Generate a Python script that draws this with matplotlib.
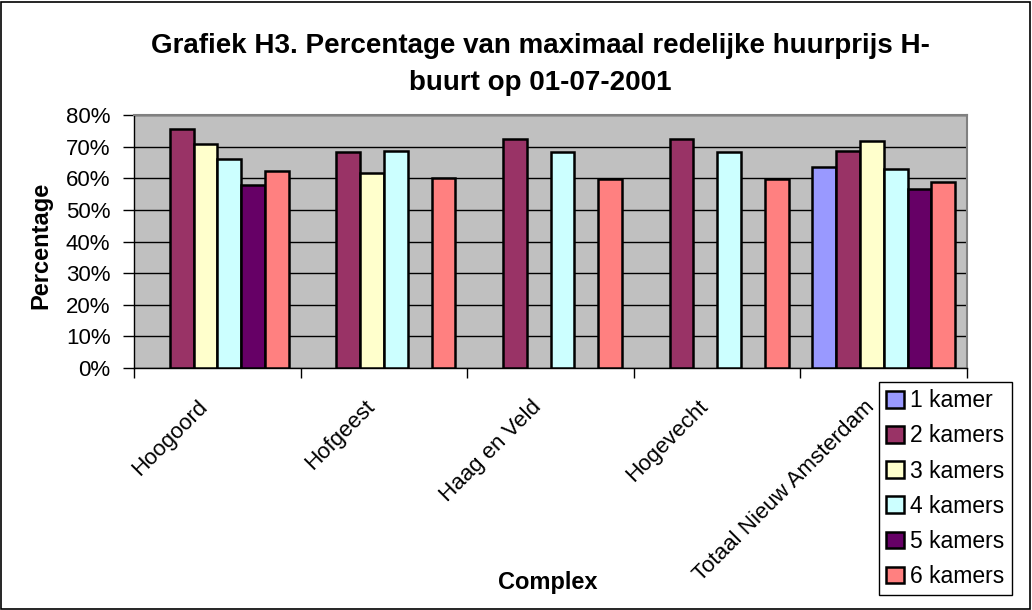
import numpy as np
import matplotlib
matplotlib.use('Agg')
import matplotlib.pyplot as plt
from matplotlib.patches import Rectangle
from matplotlib.transforms import ScaledTranslation

plt.rcParams['font.family'] = ['Liberation Sans', 'DejaVu Sans']

# data (percent), nan = no bar
complexen = ['Hoogoord', 'Hofgeest', 'Haag en Veld', 'Hogevecht', 'Totaal Nieuw Amsterdam']
series = ['1 kamer', '2 kamers', '3 kamers', '4 kamers', '5 kamers', '6 kamers']
kamer1 = [np.nan, np.nan, np.nan, np.nan, 63.6]
kamer2 = [75.5, 68.4, 72.4, 72.4, 68.5]
kamer3 = [70.8, 61.7, np.nan, np.nan, 71.9]
kamer4 = [66.2, 68.7, 68.2, 68.2, 62.8]
kamer5 = [58.0, np.nan, np.nan, np.nan, 56.5]
kamer6 = [62.2, 60.2, 59.8, 59.8, 58.8]
values = [kamer1, kamer2, kamer3, kamer4, kamer5, kamer6]
colors = ['#9999FF', '#993366', '#FFFFCC', '#CCFFFF', '#660066', '#FF8080']
yticks = [0, 10, 20, 30, 40, 50, 60, 70, 80]

W, H = 1032, 610
fig = plt.figure(figsize=(W/100, H/100), dpi=100)
fig.patches.append(Rectangle((1/W, 1/H), 1-3/W, 1-3/H, transform=fig.transFigure,
                             fill=False, edgecolor='black', lw=1.2))

ax = fig.add_axes([134/W, 1-368/H, 833/W, 253/H])
ax.set_facecolor('#C0C0C0')

x = np.arange(len(complexen))
bw = 1/7
for i, (name, vals) in enumerate(zip(series, values)):
    ax.bar(x + (i-2.5)*bw, vals, width=bw, color=colors[i], edgecolor='black',
           lw=1.8, label=name, zorder=3)

ax.set_xlim(-0.5, len(complexen)-0.5)
ax.set_ylim(0, 80)
ax.set_yticks(yticks)
ax.set_yticklabels([f'{v}%' for v in yticks], fontsize=16)
ax.yaxis.grid(True, color='black', lw=1, zorder=1)
ax.set_axisbelow(True)

# ticks on the category boundaries, names written at the centres
ax.set_xticks(np.arange(len(complexen)+1)-0.5)
ax.set_xticklabels([])
ax.tick_params(axis='x', length=7, width=1, direction='out')
ax.tick_params(axis='y', length=8, width=1, direction='out', pad=9)
lbl_tr = ax.get_xaxis_transform() + ScaledTranslation(-20/100, -28/100, fig.dpi_scale_trans)
for xi, name in zip(x, complexen):
    ax.text(xi, 0, name, transform=lbl_tr, rotation=45, ha='right', va='top',
            rotation_mode='anchor', fontsize=16)

for s in ['top', 'right']:
    ax.spines[s].set_color('#808080')
    ax.spines[s].set_linewidth(1.5)
for s in ['left', 'bottom']:
    ax.spines[s].set_color('black')
    ax.spines[s].set_linewidth(1)

fig.text(540/W, 1-33/H, 'Grafiek H3. Percentage van maximaal redelijke huurprijs H-\nbuurt op 01-07-2001',
         ha='center', va='top', fontsize=20, fontweight='bold', linespacing=1.55)
fig.text(41/W, 1-245/H, 'Percentage', rotation=90, ha='center', va='center',
         fontsize=17, fontweight='bold')
fig.text(548/W, 1-583/H, 'Complex', ha='center', va='center', fontsize=17, fontweight='bold')

leg = fig.legend(loc='upper left', bbox_to_anchor=(879/W, 1-382/H), fontsize=16.5,
                 frameon=True, fancybox=False, edgecolor='black', framealpha=1,
                 handlelength=0.75, handleheight=0.75, handletextpad=0.3,
                 labelspacing=0.53, borderpad=0.32, borderaxespad=0)
leg.get_frame().set_linewidth(1)
leg.set_zorder(10)
for h in leg.legend_handles:
    h.set_linewidth(1.8)

plt.savefig('out.png', dpi=100)
